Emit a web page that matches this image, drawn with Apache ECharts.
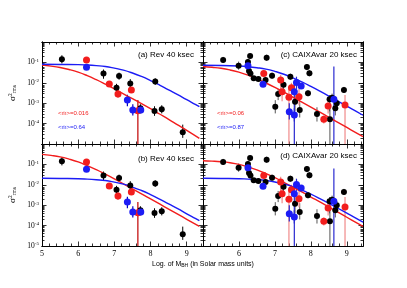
<!DOCTYPE html>
<html><head><meta charset="utf-8">
<script src="https://cdn.jsdelivr.net/npm/echarts@6/dist/echarts.min.js"></script>
<style>html,body{margin:0;padding:0;background:#fff}#c{width:407px;height:288px}</style>
</head><body><div id="c"></div>
<script>
// ---- data: [log M_BH, log sigma^2, lower end of error bar, upper end of error bar]
const revBlack = [
  [5.55,-0.85,-1.05,-0.65],[6.70,-1.55,-1.80,-1.35],[7.13,-1.67,-1.85,-1.50],
  [7.06,-2.24,-2.45,-2.05],[7.44,-2.03,-2.25,-1.82],[7.72,-3.25,-3.45,-3.05],
  [8.13,-1.94,-2.10,-1.78],[8.11,-3.38,-3.62,-3.15],[8.31,-3.30,-3.50,-3.10],
  [8.89,-4.43,-4.70,-4.05]
];
const revRed = [
  [6.23,-0.88,-1.00,-0.76],[6.86,-2.06,-2.18,-1.94],[7.10,-2.55,-2.72,-2.38],
  [7.47,-2.35,-2.47,-2.23],[7.65,-3.37,-5.00,-2.84]
];
const revBlue = [
  [6.23,-1.24,-1.36,-1.12],[7.36,-2.84,-3.15,-2.58],[7.51,-3.33,-3.60,-3.05],
  [7.73,-3.33,-3.50,-3.16]
];
const caixBlack = [
  [5.56,-0.88,-1.03,-0.73],[5.99,-1.16,-1.36,-0.96],[6.25,-0.98,-1.13,-0.83],
  [6.31,-0.69,-0.81,-0.57],[6.77,-0.77,-0.92,-0.62],[6.28,-1.42,-1.57,-1.27],
  [6.32,-1.54,-1.64,-1.44],[6.41,-1.78,-1.88,-1.68],[6.54,-1.81,-1.91,-1.71],
  [6.74,-1.86,-1.96,-1.76],[6.92,-1.65,-1.80,-1.50],[7.09,-2.55,-2.85,-2.30],
  [7.01,-3.17,-3.50,-2.85],[7.24,-2.09,-2.40,-1.80],[7.43,-1.70,-1.85,-1.55],
  [7.56,-2.93,-3.40,-2.40],[7.69,-3.33,-3.70,-2.90],[7.89,-1.23,-1.38,-1.08],
  [7.96,-1.53,-1.68,-1.38],[7.92,-2.51,-2.66,-2.36],[8.17,-3.53,-3.90,-3.20],
  [8.53,-3.79,-5.00,-2.95],[8.52,-2.81,-3.40,-2.60],[8.59,-2.73,-2.93,-2.53],
  [8.68,-3.25,-3.60,-2.95],[8.72,-3.00,-3.20,-2.80],[8.92,-2.35,-2.50,-2.20]
];
const caixRed = [
  [6.69,-1.54,-1.64,-1.44],[7.16,-1.86,-2.30,-1.60],[7.20,-2.44,-2.90,-2.10],
  [7.39,-2.71,-5.00,-2.30],[7.46,-2.24,-2.60,-2.00],[7.67,-2.68,-3.10,-2.30],
  [8.36,-3.79,-4.00,-3.60],[8.48,-3.14,-3.50,-2.90],[8.95,-3.09,-5.00,-2.60]
];
const caixBlue = [
  [6.25,-1.16,-1.26,-1.06],[6.67,-2.07,-2.17,-1.97],[7.60,-1.99,-2.30,-1.70],
  [7.73,-2.16,-2.26,-2.06],[7.54,-2.44,-5.00,-2.00],[7.40,-3.42,-3.80,-3.00],
  [7.54,-3.58,-3.90,-3.25],[8.64,-2.81,-5.00,-1.20]
];
// ---- model curves: [log M_BH, log sigma^2]
const curveRedA  = [[5,-1.13],[5.25,-1.18],[5.5,-1.25],[5.75,-1.35],[6,-1.48],[6.25,-1.65],[6.5,-1.85],[6.75,-2.07],[7,-2.30],[7.25,-2.54],[7.5,-2.78],[7.75,-3.02],[8,-3.27],[8.25,-3.53],[8.5,-3.79],[8.75,-4.06],[9,-4.33],[9.35,-4.72]];
const curveBlueA = [[5,-1.09],[5.5,-1.10],[6,-1.11],[6.25,-1.13],[6.5,-1.16],[6.75,-1.20],[7,-1.28],[7.25,-1.38],[7.5,-1.52],[7.75,-1.69],[8,-1.89],[8.25,-2.11],[8.5,-2.35],[8.75,-2.58],[9,-2.83],[9.25,-3.07],[9.35,-3.17]];
const curveRedB  = [[5,-0.51],[5.25,-0.56],[5.5,-0.63],[5.75,-0.74],[6,-0.88],[6.25,-1.06],[6.5,-1.26],[6.75,-1.48],[7,-1.71],[7.25,-1.95],[7.5,-2.20],[7.75,-2.44],[8,-2.69],[8.25,-2.94],[8.5,-3.19],[8.75,-3.44],[9,-3.69],[9.35,-4.04]];
const curveBlueB = [[5,-1.68],[5.5,-1.69],[6,-1.70],[6.25,-1.72],[6.5,-1.75],[6.75,-1.79],[7,-1.87],[7.25,-1.97],[7.5,-2.11],[7.75,-2.28],[8,-2.48],[8.25,-2.70],[8.5,-2.94],[8.75,-3.17],[9,-3.42],[9.25,-3.66],[9.35,-3.76]];
const curveRedC  = [[5,-1.20],[5.25,-1.24],[5.5,-1.29],[5.75,-1.37],[6,-1.48],[6.25,-1.62],[6.5,-1.80],[6.75,-2.01],[7,-2.23],[7.25,-2.46],[7.5,-2.70],[7.75,-2.95],[8,-3.19],[8.25,-3.44],[8.5,-3.69],[8.75,-3.94],[9,-4.19],[9.25,-4.44],[9.45,-4.64]];
const curveBlueC = [[5,-1.14],[5.5,-1.15],[6,-1.18],[6.25,-1.21],[6.5,-1.26],[6.75,-1.33],[7,-1.44],[7.25,-1.58],[7.5,-1.76],[7.75,-1.96],[8,-2.18],[8.25,-2.41],[8.5,-2.65],[8.75,-2.90],[9,-3.14],[9.25,-3.39],[9.45,-3.59]];
const curveRedD  = [[5,-0.82],[5.25,-0.84],[5.5,-0.87],[5.75,-0.92],[6,-1.00],[6.25,-1.12],[6.5,-1.27],[6.75,-1.45],[7,-1.65],[7.25,-1.88],[7.5,-2.11],[7.75,-2.35],[8,-2.60],[8.25,-2.84],[8.5,-3.09],[8.75,-3.34],[9,-3.59],[9.25,-3.84],[9.45,-4.04]];
const curveBlueD = [[5,-1.68],[5.5,-1.69],[6,-1.70],[6.25,-1.72],[6.5,-1.74],[6.75,-1.79],[7,-1.86],[7.25,-1.96],[7.5,-2.09],[7.75,-2.26],[8,-2.46],[8.25,-2.68],[8.5,-2.91],[8.75,-3.15],[9,-3.39],[9.25,-3.63],[9.45,-3.83]];
// ---- ticks / labels
const xTicks = [5,6,7,8,9];
const yTicks = [-5,-4,-3,-2,-1,0];
const panelTitles = ['(a) Rev 40 ksec','(b) Rev 40 ksec','(c) CAIXAvar 20 ksec','(d) CAIXAvar 20 ksec'];
const mdotRev = ['0.016','0.64'];
const mdotCaix = ['0.06','0.87'];

const SERIF = '"Liberation Serif","DejaVu Serif",serif';
const SANS = '"Liberation Sans",Arial,sans-serif';
const RED = '#f21d1d', BLUE = '#1c1cf5';

const minorX = [];
for (let i = 0; i < xTicks.length; i++) for (let k = 1; k < 5; k++) { const v = xTicks[i] + k*0.2; if (v < 9.45) minorX.push(+v.toFixed(2)); }
const minorY = [];
for (let i = 0; i < yTicks.length - 1; i++) for (let k = 2; k < 10; k++) minorY.push(yTicks[i] + Math.log10(k));

const grids = [
  {left:42, top:42, width:161, height:102},
  {left:42, top:144, width:161, height:102},
  {left:203, top:42, width:160, height:102},
  {left:203, top:144, width:160, height:102}
];
const xAxes = [], yAxes = [];
function xAx(g, pos, vals, len, labelVals, extra) {
  return Object.assign({gridIndex:g, type:'value', min:5, max:9.45, position:pos,
    axisLine:{show:true, onZero:false, lineStyle:{color:'#000', width:1}},
    axisTick:{show:true, inside:true, length:len, customValues:vals, lineStyle:{color:'#000', width:0.8}},
    axisLabel: labelVals ? {show:true, customValues:labelVals, fontFamily:SERIF, fontSize:8, color:'#000', margin:4} : {show:false},
    splitLine:{show:false}}, extra||{});
}
function yAx(g, pos, vals, len, labelVals, extra) {
  return Object.assign({gridIndex:g, type:'value', min:-5, max:0, position:pos,
    axisLine:{show:true, onZero:false, lineStyle:{color:'#000', width:1}},
    axisTick:{show:true, inside:true, length:len, customValues:vals, lineStyle:{color:'#000', width:0.8}},
    axisLabel: labelVals ? {show:true, customValues:labelVals, margin:3,
      formatter: v => '{b|10}{s|' + Math.round(v) + '}',
      rich:{b:{fontFamily:SERIF, fontSize:7.5, color:'#000', lineHeight:9}, s:{fontFamily:SERIF, fontSize:5, color:'#000', lineHeight:5, verticalAlign:'top'}}} : {show:false},
    splitLine:{show:false}}, extra||{});
}
const yName = {name:'{s|σ}{p|2}{r|rms}', nameLocation:'middle', nameGap:24, nameRotate:90,
  nameTextStyle:{rich:{s:{fontFamily:SERIF, fontSize:9, color:'#000', lineHeight:10}, p:{fontFamily:SERIF, fontSize:5.5, color:'#000', lineHeight:5, verticalAlign:'top'}, r:{fontFamily:SERIF, fontSize:5.5, color:'#000', lineHeight:5, verticalAlign:'bottom'}}}};
grids.forEach((gr, g) => {
  const bottomRow = (g === 1 || g === 3);
  const leftCol = (g < 2);
  const xl = bottomRow ? (leftCol ? xTicks : xTicks.slice(1)) : null;
  xAxes.push(xAx(g,'bottom',xTicks,4.5,xl));
  xAxes.push(xAx(g,'bottom',minorX,2.5,null));
  xAxes.push(xAx(g,'top',xTicks,4.5,null));
  xAxes.push(xAx(g,'top',minorX,2.5,null));
  const yl = leftCol ? (bottomRow ? yTicks.slice(0,5) : yTicks.slice(1,5)) : null;
  yAxes.push(yAx(g,'left',yTicks,4.5,yl, leftCol ? yName : null));
  yAxes.push(yAx(g,'left',minorY,2.5,null));
  yAxes.push(yAx(g,'right',yTicks,4.5,null));
  yAxes.push(yAx(g,'right',minorY,2.5,null));
});

const series = [];
function errBars(g, arr, color, w) {
  series.push({type:'custom', xAxisIndex:g*4, yAxisIndex:g*4, clip:true, silent:true, z:2,
    data: arr.map(d => [d[0], d[2], d[3]]), encode:{x:0, y:[1,2]},
    renderItem:(params, api) => {
      const p1 = api.coord([api.value(0), api.value(1)]);
      const p2 = api.coord([api.value(0), api.value(2)]);
      return {type:'line', shape:{x1:p1[0], y1:p1[1], x2:p2[0], y2:p2[1]}, style:{stroke:color, lineWidth:w}};
    }});
}
function pts(g, arr, color, size) {
  series.push({type:'scatter', xAxisIndex:g*4, yAxisIndex:g*4, z:4, symbolSize:size,
    data: arr.map(d => [d[0], d[1]]), itemStyle:{color:color, opacity:1}});
}
function curve(g, arr, color) {
  series.push({type:'line', xAxisIndex:g*4, yAxisIndex:g*4, z:3, data:arr, smooth:true,
    showSymbol:false, lineStyle:{color:color, width:1.4}});
}
const curves = [[curveRedA,curveBlueA],[curveRedB,curveBlueB],[curveRedC,curveBlueC],[curveRedD,curveBlueD]];
for (let g = 0; g < 4; g++) {
  const rev = g < 2;
  const K = rev ? revBlack : caixBlack, R = rev ? revRed : caixRed, B = rev ? revBlue : caixBlue;
  curve(g, curves[g][0], RED);
  curve(g, curves[g][1], BLUE);
  errBars(g, K, rev ? '#000' : '#555', 1);
  errBars(g, R, rev ? '#c00000' : '#f08a8a', 1.2);
  errBars(g, B, rev ? '#0000c0' : '#2a2ad0', 1.2);
  pts(g, K, '#000', 6);
  pts(g, R, RED, 7);
  pts(g, B, BLUE, 7);
}

const graphic = [];
const titlePos = [[194,55],[194,159],[357,55],[357,156]];
panelTitles.forEach((t, i) => graphic.push({type:'text', x:titlePos[i][0], y:titlePos[i][1],
  style:{text:t, font:'8px ' + SANS, fill:'#000', align:'right', verticalAlign:'middle'}}));
function mdot(x, y, val, color) {
  graphic.push({type:'text', x:x, y:y, style:{text:'<ṁ>=' + val, font:'6px ' + SANS, fill:color, align:'left', verticalAlign:'middle'}});
}
mdot(58,113,mdotRev[0],RED); mdot(58,127,mdotRev[1],BLUE);
mdot(217,113,mdotCaix[0],RED); mdot(217,127,mdotCaix[1],BLUE);
graphic.push({type:'text', x:203, y:264, style:{text:'{a|Log. of M}{s|BH}{a| (in Solar mass units)}', align:'center', verticalAlign:'middle',
  rich:{a:{fontFamily:SANS, fontSize:7, fill:'#000', lineHeight:9}, s:{fontFamily:SANS, fontSize:5, fill:'#000', lineHeight:5, verticalAlign:'bottom'}}}});

const chart = echarts.init(document.getElementById('c'), null, {renderer:'canvas'});
chart.setOption({animation:false, backgroundColor:'#fff', grid:grids, xAxis:xAxes, yAxis:yAxes, series:series, graphic:graphic});
</script></body></html>
